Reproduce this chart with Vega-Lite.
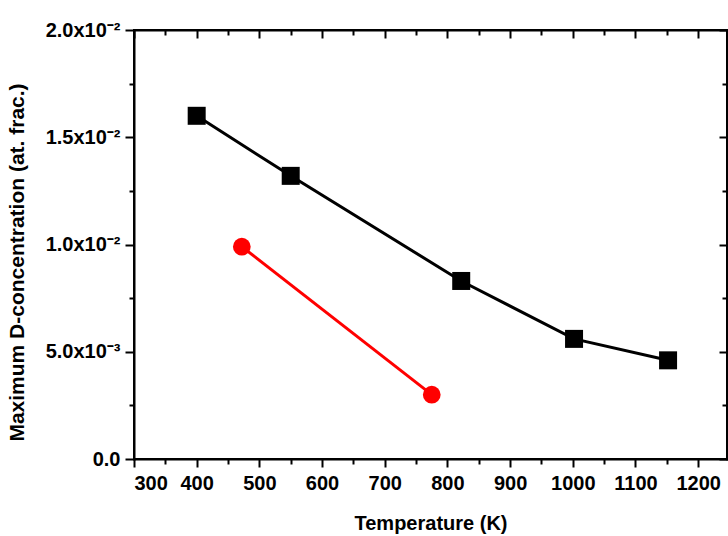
{
  "$schema": "https://vega.github.io/schema/vega-lite/v6.json",
  "autosize": {"type": "fit", "contains": "padding"},
  "padding": {"left": 5, "top": 20, "right": 0, "bottom": 2},
  "width": 728,
  "height": 536,
  "config": {
    "view": {"stroke": "#000000", "strokeWidth": 2},
    "axis": {
      "grid": false,
      "domainColor": "black",
      "tickColor": "black",
      "labelColor": "black",
      "titleColor": "black",
      "labelFont": "Liberation Sans",
      "titleFont": "Liberation Sans",
      "labelFontSize": 20,
      "titleFontSize": 20,
      "labelFontWeight": "bold",
      "titleFontWeight": "bold",
      "domainWidth": 2,
      "tickWidth": 2,
      "domainCap": "square"
    }
  },
  "data": {
    "values": [
      {"series": "self-implantaion (0.9 DPA)", "T": 400, "c": 0.0160},
      {"series": "self-implantaion (0.9 DPA)", "T": 550, "c": 0.0132},
      {"series": "self-implantaion (0.9 DPA)", "T": 822, "c": 0.0083},
      {"series": "self-implantaion (0.9 DPA)", "T": 1002, "c": 0.0056},
      {"series": "self-implantaion (0.9 DPA)", "T": 1152, "c": 0.0046},
      {"series": "n-damage (0.3 DPA)", "T": 472, "c": 0.0099},
      {"series": "n-damage (0.3 DPA)", "T": 775, "c": 0.0030}
    ]
  },
  "resolve": {"axis": {"x": "independent", "y": "independent"}},
  "layer": [
    {
      "mark": {"type": "line", "strokeWidth": 3},
      "encoding": {
        "x": {
          "field": "T", "type": "quantitative",
          "scale": {"domain": [300, 1246], "nice": false, "zero": false},
          "axis": {
            "orient": "bottom", "title": "Temperature (K)",
            "values": [300, 400, 500, 600, 700, 800, 900, 1000, 1100, 1200],
            "tickSize": 8, "labelPadding": 6, "format": "d",
            "titleY": 70.5, "titleBaseline": "alphabetic"
          }
        },
        "y": {
          "field": "c", "type": "quantitative",
          "scale": {"domain": [0, 0.02], "nice": false, "zero": true},
          "axis": {
            "orient": "left", "title": "Maximum D-concentration (at. frac.)",
            "values": [0, 0.005, 0.01, 0.015, 0.02],
            "tickSize": 9, "labelPadding": 5,
            "labelExpr": "datum.value < 0.0001 ? '0.0' : datum.value < 0.009 ? format(datum.value*1000, '.1f') + 'x10⁻³' : format(datum.value*100, '.1f') + 'x10⁻²'",
            "titleX": -111, "titleY": 232, "titleBaseline": "alphabetic", "titleFontSize": 21
          }
        },
        "stroke": {
          "field": "series", "type": "nominal", "legend": null,
          "scale": {"domain": ["self-implantaion (0.9 DPA)", "n-damage (0.3 DPA)"], "range": ["#000000", "#ff0000"]}
        }
      }
    },
    {
      "transform": [{"filter": "datum.series == 'self-implantaion (0.9 DPA)'"}],
      "mark": {"type": "point", "shape": "square", "filled": true, "color": "#000000", "size": 324, "opacity": 1},
      "encoding": {
        "x": {
          "field": "T", "type": "quantitative",
          "axis": {"orient": "top", "title": null, "labels": false, "domain": true,
                   "values": [300, 400, 500, 600, 700, 800, 900, 1000, 1100, 1200], "tickSize": -8}
        },
        "y": {
          "field": "c", "type": "quantitative",
          "axis": {"orient": "left", "title": null, "labels": false, "domain": false,
                   "values": [0.0025, 0.0075, 0.0125, 0.0175], "tickSize": 5}
        }
      }
    },
    {
      "transform": [{"filter": "datum.series == 'n-damage (0.3 DPA)'"}],
      "mark": {"type": "point", "shape": "circle", "filled": true, "color": "#ff0000", "size": 314, "opacity": 1},
      "encoding": {
        "x": {
          "field": "T", "type": "quantitative",
          "axis": {"orient": "bottom", "title": null, "labels": false, "domain": false,
                   "values": [350, 450, 550, 650, 750, 850, 950, 1050, 1150], "tickSize": 5}
        },
        "y": {
          "field": "c", "type": "quantitative",
          "axis": {"orient": "right", "title": null, "labels": false, "domain": true,
                   "values": [0, 0.005, 0.01, 0.015, 0.02], "tickSize": -8}
        }
      }
    },
    {
      "mark": {"type": "point", "filled": true, "opacity": 0, "size": 256},
      "encoding": {
        "x": {
          "field": "T", "type": "quantitative",
          "axis": {"orient": "top", "title": null, "labels": false, "domain": false,
                   "values": [350, 450, 550, 650, 750, 850, 950, 1050, 1150], "tickSize": -5}
        },
        "y": {
          "field": "c", "type": "quantitative",
          "axis": {"orient": "right", "title": null, "labels": false, "domain": false,
                   "values": [0.0025, 0.0075, 0.0125, 0.0175], "tickSize": -5}
        },
        "color": {
          "field": "series", "type": "nominal",
          "scale": {"domain": ["self-implantaion (0.9 DPA)", "n-damage (0.3 DPA)"], "range": ["#000000", "#ff0000"]},
          "legend": {
            "title": null, "orient": "top-right", "offset": 20,
            "strokeColor": "#000000", "padding": 4,
            "symbolOpacity": 1, "symbolSize": 256, "symbolOffset": 22.5, "labelOffset": 22.5,
            "rowPadding": 7, "labelFont": "Liberation Sans", "labelFontSize": 20,
            "labelFontWeight": "bold", "labelColor": "#000000", "labelLimit": 400
          }
        },
        "shape": {
          "field": "series", "type": "nominal",
          "scale": {
            "domain": ["self-implantaion (0.9 DPA)", "n-damage (0.3 DPA)"],
            "range": [
              "M-3.06,-0.16H3.06V0.16H-3.06Z M-1.06,-1.06H1.06V1.06H-1.06Z",
              "M-3.06,-0.16H3.06V0.16H-3.06Z M1.15,0A1.15,1.15,0,1,1,-1.15,0A1.15,1.15,0,1,1,1.15,0Z"
            ]
          },
          "legend": {
            "title": null, "orient": "top-right", "offset": 20,
            "strokeColor": "#000000", "padding": 4,
            "symbolOpacity": 1, "symbolSize": 256, "symbolOffset": 22.5, "labelOffset": 22.5,
            "rowPadding": 7, "labelFont": "Liberation Sans", "labelFontSize": 20,
            "labelFontWeight": "bold", "labelColor": "#000000", "labelLimit": 400
          }
        }
      }
    }
  ]
}
